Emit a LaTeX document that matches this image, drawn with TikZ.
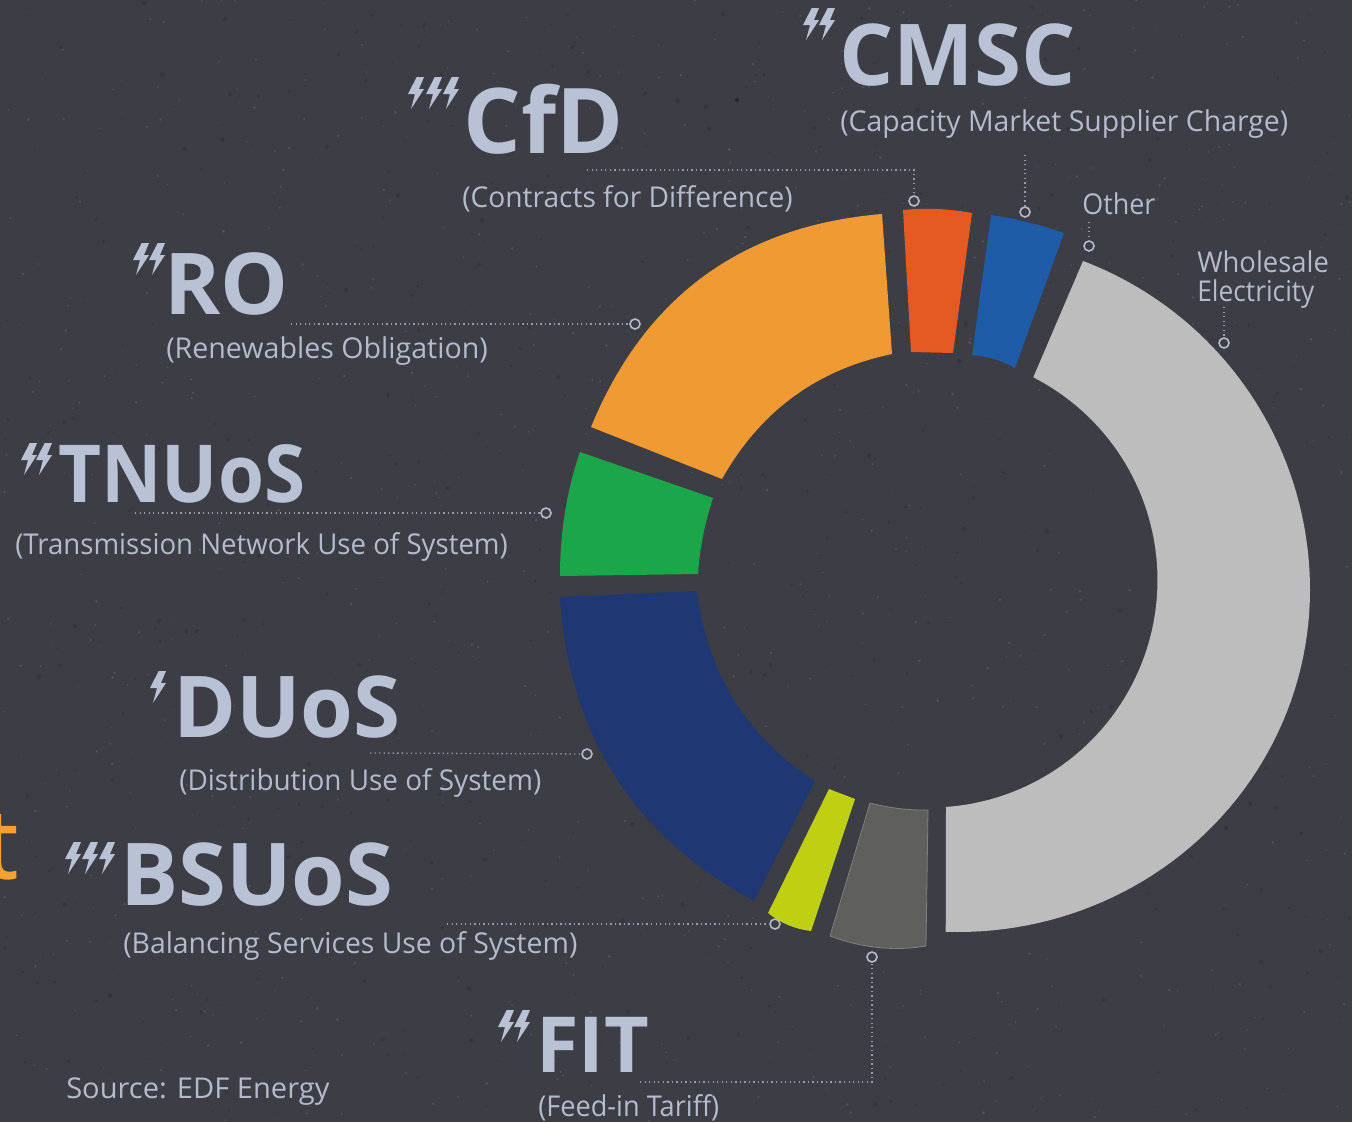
\documentclass[tikz,border=0pt]{standalone}
\usepackage{graphicx}
\usepackage{fontspec}
\usetikzlibrary{calc}
\setmainfont{Open Sans}
\newfontfamily\tfont[FakeBold=1.6]{Open Sans}
\definecolor{bgc}{HTML}{3D3D45}
\definecolor{txtc}{HTML}{B9C2D4}
\definecolor{subc}{HTML}{B3BBCD}
\definecolor{navy}{HTML}{1F3873}
\definecolor{gr}{HTML}{1CA64A}
\definecolor{orng}{HTML}{F09A33}
\definecolor{redo}{HTML}{E55A22}
\definecolor{blu}{HTML}{1F5CA8}
\definecolor{lgrey}{HTML}{BDBDBD}
\definecolor{dgrey}{HTML}{5F5F5D}
\definecolor{lime2}{HTML}{BFCF12}
\definecolor{tcol}{HTML}{F5A030}
\newcommand{\bigf}[1]{\fontsize{#1}{#1}\selectfont\bfseries}
\newcommand{\qa}[3]{.. controls ($1.3333*(#2)-.3333*(#3)$) and ($1.3333*(#2)-.3333*(#1)$) .. (#3)}
\tikzset{
  big/.style={anchor=base west,inner sep=0pt,text=txtc},
  small/.style={anchor=base west,inner sep=0pt,text=subc,font=\fontsize{21.5}{24}\selectfont},
  dotc/.style={circle,draw=subc,line width=1.2pt,fill=none,minimum size=7.5pt,inner sep=0pt},
  lead/.style={draw=subc!75!bgc,line width=1pt,dash pattern=on 1pt off 2.4pt}
}
\newcommand{\boltat}[2]{%
  \fill[txtc,shift={(#1,#2)}] (8.7,0)--(16,0)--(11,12)--(16,12)--(3,32)--(7,17)--(0,17)--cycle;}
\begin{document}
\begin{tikzpicture}[x=.75pt,y=-.75pt]
\useasboundingbox (0,0) rectangle (1352,1122);
\fill[bgc] (0,0) rectangle (1352,1122);
% chalk speckle
\pgfmathsetseed{4242}
\foreach \i in {1,...,900}{
  \pgfmathsetmacro{\px}{rnd*1352}
  \pgfmathsetmacro{\py}{rnd*1122}
  \pgfmathsetmacro{\pr}{0.5+rnd*1.0}
  \fill[white,opacity=.10] (\px,\py) circle[radius=\pr];
}
\foreach \i in {1,...,500}{
  \pgfmathsetmacro{\px}{rnd*1352}
  \pgfmathsetmacro{\py}{rnd*1122}
  \pgfmathsetmacro{\pr}{0.8+rnd*1.5}
  \fill[black,opacity=.12] (\px,\py) circle[radius=\pr];
}
\fill[black!85] (737,100) circle[radius=2];
% segments
\fill[lgrey] (1083,261)
  -- plot[domain=-69.2:0,samples=50] ({958+352*cos(\x)},{590+352*sin(\x)})
  -- plot[domain=0:92,samples=50] ({958+352*cos(\x)},{590+342*sin(\x)})
  -- (946,808)
  -- plot[domain=86:-63,samples=80] ({930+227.5*cos(\x)},{580+227.5*sin(\x)}) -- cycle;
\filldraw[fill=dgrey,draw=white!50!black,line width=.6pt] (870,803) \qa{870,803}{899,808.5}{928,810} -- (926,946) \qa{926,946}{878,947.5}{830,936} -- cycle;
\fill[lime2] (829,789) -- (855,799) -- (811,931) \qa{811,931}{788,925}{768,913} -- cycle;
\fill[navy] (560,597) -- (697,591) \qa{697,591}{734,700}{815,781} -- (754,901) \qa{754,901}{615,776}{560,597} -- cycle;
\fill[gr] (580,452) \qa{580,452}{565,512}{560,576} -- (698,574) \qa{698,574}{703,536}{713,498} -- cycle;
\fill[orng] (591,427) \qa{591,427}{704,276}{882,214} -- (892,354) \qa{892,354}{793,397}{722,479} -- cycle;
\fill[redo] (903,210) \qa{903,210}{937,209}{972,213} -- (953,353) \qa{953,353}{932,352.5}{911,352} -- cycle;
\fill[blu] (991,215) \qa{991,215}{1027,222}{1064,233} -- (1015,368) \qa{1015,368}{994,359}{972,355} -- cycle;
% big labels and lightning
\node[big,font=\bigf{64}] (cmsc) at (839,85) {CMSC};
\node[big,font=\bigf{68}] (cfd) at (463,153) {CfD};
\node[big,font=\bigf{64}] (ro) at (164,314) {RO};
\node[big,font=\bigf{60}] (tnuos) at (58,502) {\scalebox{.93}[1]{TNUoS}};
\node[big,font=\bigf{64}] (duos) at (173,737) {DUoS};
\node[big,font=\bigf{65}] (bsuos) at (120,905) {BSUoS};
\node[big,font=\bigf{58}] (fit) at (536,1072) {FIT};
\boltat{803}{8}\boltat{819}{8}
\boltat{408}{77}\boltat{426}{77}\boltat{443}{77}
\boltat{133}{243}\boltat{149}{243}
\boltat{21}{443}\boltat{36}{443}
\boltat{150}{671}
\boltat{65}{842}\boltat{82}{842}\boltat{99}{842}
\boltat{498}{1010}\boltat{514}{1010}
% sub labels
\node[small] (cmscs) at (840,131) {\scalebox{.991}[1]{(Capacity Market Supplier Charge)}};
\node[small] (cfds) at (462,207) {\scalebox{.982}[1]{(Contracts for Difference)}};
\node[small] (ros) at (166,358) {\scalebox{.997}[1]{(Renewables Obligation)}};
\node[small] (tnuoss) at (15,554) {\scalebox{.963}[1]{(Transmission Network Use of System)}};
\node[small] (duoss) at (179,790) {\scalebox{.973}[1]{(Distribution Use of System)}};
\node[small] (bsuoss) at (123,953) {\scalebox{.989}[1]{(Balancing Services Use of System)}};
\node[small] (fits) at (538,1116) {\scalebox{.948}[1]{(Feed-in Tariff)}};
\node[small] (src) at (66,1098) {\scalebox{1.015}[1]{Source: EDF Energy}};
\node[small] (oth) at (1082,214) {\scalebox{.94}[1]{Other}};
\node[small] (wh1) at (1197,272) {\scalebox{.956}[1]{Wholesale}};
\node[small] (wh2) at (1197,301) {\scalebox{.92}[1]{Electricity}};
\node[anchor=base east,inner sep=0pt,text=tcol,font=\fontsize{72}{72}\selectfont\tfont] (t) at (18,878) {t};
% leaders
\node[dotc] (d1) at (914,201) {};
\node[dotc] (d2) at (1025,212) {};
\node[dotc] (d3) at (1089,246) {};
\node[dotc] (d4) at (1224,343) {};
\node[dotc] (d5) at (635,324) {};
\node[dotc] (d6) at (546,513) {};
\node[dotc] (d7) at (587,754) {};
\node[dotc] (d8) at (775,924) {};
\node[dotc] (d9) at (872,957) {};
\coordinate (c1) at (587,170); \coordinate (c1b) at (914,170);
\coordinate (c2) at (1025,155);
\coordinate (c3) at (1089,222);
\coordinate (c4) at (1224,307);
\coordinate (c5) at (291,324);
\coordinate (c6) at (135,513);
\coordinate (c7) at (370,753);
\coordinate (c8) at (447,924);
\coordinate (c9) at (640,1082); \coordinate (c9b) at (872,1082);
\draw[lead] (c1) -- (c1b) -- (d1);
\draw[lead] (c2) -- (d2);
\draw[lead] (c3) -- (d3);
\draw[lead] (c4) -- (d4);
\draw[lead] (c5) -- (d5);
\draw[lead] (c6) -- (d6);
\draw[lead] (c7) -- (d7);
\draw[lead] (c8) -- (d8);
\draw[lead] (c9) -- (c9b) -- (d9);
\end{tikzpicture}
\end{document}
